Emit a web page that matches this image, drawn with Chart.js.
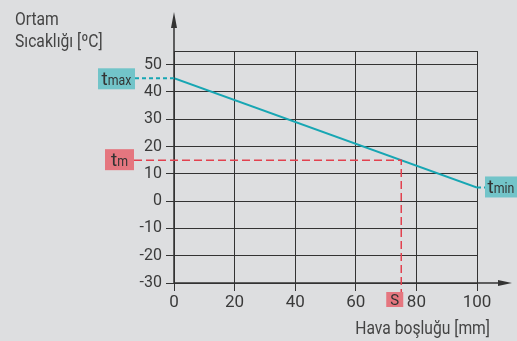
<!DOCTYPE html>
<html>
<head>
<meta charset="utf-8">
<script src="https://cdn.jsdelivr.net/npm/chart.js@4/dist/chart.umd.min.js"></script>
<style>
  html, body { margin: 0; padding: 0; background: #dddee0; }
  canvas { display: block; }
</style>
</head>
<body>
<canvas id="chart" width="517" height="341"></canvas>
<script>
// data
const airGap = [0, 100]
const ambientTemp = [45, 5]
const xTicks = [0, 20, 40, 60, 80, 100]
const yTicks = [-30, -20, -10, 0, 10, 20, 30, 40, 50, 55]
const tMax = 45
const tMin = 5
const tM = 15
const sGap = 75
const yTitle = ['Ortam', 'Sıcaklığı [ºC]']
const xTitle = 'Hava boşluğu [mm]'

const ink = '#333333'
const teal = '#17a6b3'
const tealBox = '#72c4c9'
const red = '#e2414f'
const redBox = '#e5767f'

function narrowText(ctx, text, x, y, size, align, sx) {
    ctx.save()
    ctx.font = size + 'px Roboto'
    ctx.translate(x, y)
    ctx.scale(sx, 1)
    ctx.textAlign = align
    ctx.textBaseline = 'alphabetic'
    ctx.fillText(text, 0, 0)
    ctx.restore()
}

function tLabel(ctx, x0, y0, w, h, fill, sub) {
    ctx.fillStyle = fill
    ctx.fillRect(x0, y0, w, h)
    ctx.fillStyle = ink
    ctx.save()
    ctx.font = '19px Roboto'
    const tw = ctx.measureText('t').width
    ctx.font = '14px Roboto'
    const sw = ctx.measureText(sub).width * 0.88
    ctx.restore()
    const start = x0 + (w - tw - sw) / 2
    narrowText(ctx, 't', start, y0 + h - 4, 19, 'left', 1)
    narrowText(ctx, sub, start + tw, y0 + h - 4, 14, 'left', 0.88)
}

const extras = {
    id: 'extras',
    afterDatasetsDraw(chart) {
        const ctx = chart.ctx
        const xs = chart.scales.x
        const ys = chart.scales.y
        const area = chart.chartArea
        ctx.save()

        // axes with arrows
        ctx.strokeStyle = ink
        ctx.fillStyle = ink
        ctx.lineWidth = 1.5
        ctx.beginPath()
        ctx.moveTo(area.left, area.bottom)
        ctx.lineTo(area.left, 24)
        ctx.moveTo(area.left, area.bottom)
        ctx.lineTo(503, area.bottom)
        ctx.stroke()
        ctx.beginPath()
        ctx.moveTo(area.left, 12)
        ctx.lineTo(area.left - 3, 28)
        ctx.lineTo(area.left + 3, 28)
        ctx.closePath()
        ctx.fill()
        ctx.beginPath()
        ctx.moveTo(512, area.bottom)
        ctx.lineTo(498, area.bottom - 3)
        ctx.lineTo(498, area.bottom + 3)
        ctx.closePath()
        ctx.fill()

        // teal dashed leaders
        ctx.strokeStyle = teal
        ctx.lineWidth = 2
        ctx.setLineDash([4, 3])
        ctx.beginPath()
        ctx.moveTo(135, ys.getPixelForValue(tMax))
        ctx.lineTo(xs.getPixelForValue(0), ys.getPixelForValue(tMax))
        ctx.moveTo(xs.getPixelForValue(100), ys.getPixelForValue(tMin))
        ctx.lineTo(485, ys.getPixelForValue(tMin))
        ctx.stroke()

        // red dashed guide for tm / S
        ctx.strokeStyle = red
        ctx.lineWidth = 1.5
        ctx.setLineDash([8, 4])
        ctx.beginPath()
        ctx.moveTo(134, ys.getPixelForValue(tM))
        ctx.lineTo(xs.getPixelForValue(sGap), ys.getPixelForValue(tM))
        ctx.lineTo(xs.getPixelForValue(sGap), 292)
        ctx.stroke()
        ctx.setLineDash([])

        // labels in boxes
        const yMax = ys.getPixelForValue(tMax)
        const yMin = ys.getPixelForValue(tMin)
        const yM = ys.getPixelForValue(tM)
        tLabel(ctx, 98, yMax - 10, 37, 21, tealBox, 'max')
        tLabel(ctx, 485, yMin - 11, 32, 21, tealBox, 'min')
        tLabel(ctx, 105, yM - 11, 29, 21, redBox, 'm')
        const sx = xs.getPixelForValue(sGap)
        ctx.fillStyle = redBox
        ctx.fillRect(sx - 15, 292, 17, 15)
        ctx.fillStyle = ink
        narrowText(ctx, 'S', sx - 6.5, 305, 15, 'center', 1)

        // titles
        ctx.fillStyle = '#444444'
        narrowText(ctx, yTitle[0], 15, 25, 18, 'left', 0.87)
        narrowText(ctx, yTitle[1], 15, 47, 18, 'left', 0.87)
        narrowText(ctx, xTitle, 490, 334, 18, 'right', 0.87)

        ctx.restore()
    }
}

new Chart(document.getElementById('chart'), {
    type: 'line',
    data: {
        datasets: [{
            data: airGap.map((x, i) => ({ x: x, y: ambientTemp[i] })),
            borderColor: teal,
            borderWidth: 2,
            pointRadius: 0,
            fill: false,
            tension: 0
        }]
    },
    options: {
        responsive: false,
        animation: false,
        devicePixelRatio: 1,
        layout: { padding: { top: 51, right: 40, left: 0, bottom: 0 } },
        plugins: { legend: { display: false }, tooltip: { enabled: false } },
        scales: {
            x: {
                type: 'linear',
                min: 0,
                max: 100,
                afterBuildTicks: s => { s.ticks = xTicks.map(v => ({ value: v })) },
                afterFit: s => { s.height = 58 },
                border: { display: false },
                grid: { color: ink, lineWidth: 1, tickLength: 8, tickColor: ink },
                ticks: { color: '#3a3a3a', font: { family: 'Roboto', size: 17 }, padding: 2, maxRotation: 0 }
            },
            y: {
                min: -30,
                max: 55,
                afterBuildTicks: s => { s.ticks = yTicks.map(v => ({ value: v })) },
                afterFit: s => { s.width = 174 },
                border: { display: false },
                grid: {
                    color: ink,
                    lineWidth: 1,
                    tickLength: 8,
                    tickColor: c => (c.tick && c.tick.value === 55 ? 'rgba(0,0,0,0)' : ink)
                },
                ticks: {
                    color: '#3a3a3a',
                    font: { family: 'Roboto', size: 16 },
                    padding: 4,
                    callback: v => (v === 55 ? '' : v)
                }
            }
        }
    },
    plugins: [extras]
})
</script>
</body>
</html>
